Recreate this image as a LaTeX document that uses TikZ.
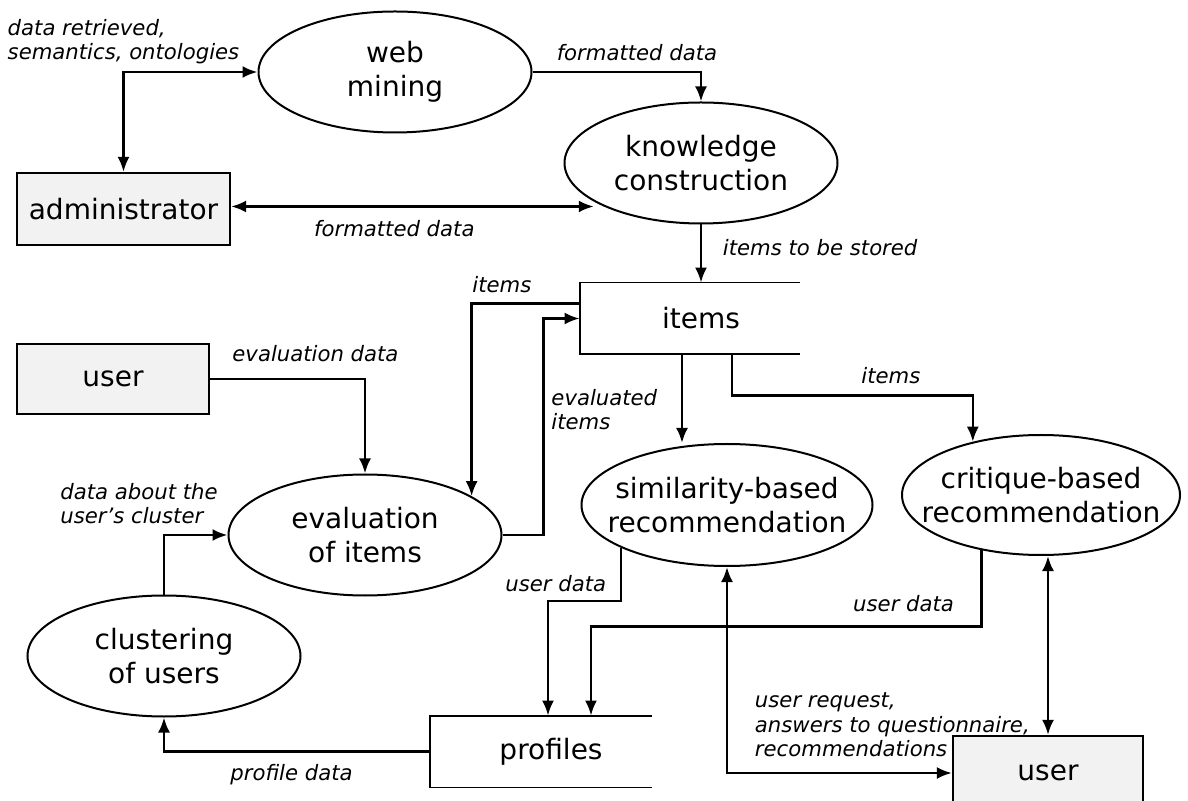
\documentclass[tikz,border=0pt]{standalone}
\usepackage{fontspec}
\setmainfont{DejaVu Sans}[ItalicFont={DejaVu Sans Oblique}]
\usepackage{tikz}
\usetikzlibrary{shapes,arrows.meta,positioning}
\definecolor{boxgray}{RGB}{242,242,242}
\tikzstyle{proc} = [ellipse, draw=black, line width=1pt, fill=none, text=black, align=center, font=\fontsize{14}{17}\selectfont, inner xsep=-12pt, minimum width=136.5pt, minimum height=60.5pt, on grid]
\tikzstyle{ent} = [rectangle, draw=black, line width=1.1pt, fill=boxgray, text=black, font=\fontsize{14}{17}\selectfont, on grid]
\tikzstyle{store} = [rectangle, draw=none, fill=none, text=black, font=\fontsize{14}{17}\selectfont, minimum width=110pt, minimum height=35.5pt, on grid]
\tikzstyle{storeline} = [draw=black, line width=0.9pt]
\tikzstyle{lab} = [draw=none, fill=none, text=black, font=\fontsize{10.6}{12.3}\selectfont\itshape]
\tikzstyle{tedge}  = [draw, line width=1.3pt, >={Latex[length=7.5pt,width=6pt]}, ->]

\begin{document}
\begin{tikzpicture}

\useasboundingbox (0,0) rectangle (594pt,-400.5pt);

% processes and entities =============================
\node[proc] (web) at (197.5pt,-36pt) {web\\mining};
\node[proc, below right=45.5pt and 153pt of web] (know) {knowledge\\construction};
\node[ent, minimum width=106.5pt, minimum height=36pt, below left=68.5pt and 135.75pt of web] (admin) {administrator};
\node[store, below left=77.75pt and 5.5pt of know] (items) {\hspace*{11pt}items};
\node[ent, minimum width=96pt, minimum height=35pt, below left=85pt and 5.25pt of admin] (user1) {user};
\node[proc, below right=78pt and 126pt of user1] (eval) {evaluation\\of items};
\node[proc, below left=60.5pt and 100.5pt of eval] (clust) {clustering\\of users};
\node[proc, minimum width=145.5pt, minimum height=61pt, below right=93.25pt and 18.5pt of items] (sim) {similarity-based\\recommendation};
\node[proc, minimum width=139pt, minimum height=60pt, above right=5pt and 157pt of sim] (crit) {critique-based\\recommendation};
\node[store, minimum width=111pt, below right=108.25pt and 88pt of eval] (profiles) {\hspace*{10pt}profiles};
\node[ent, minimum width=95pt, minimum height=37pt, below right=139pt and 3.5pt of crit] (user2) {user};

% data stores
\draw[storeline] (items.north east) -- (items.north west) -- (items.south west) -- (items.south east);
\draw[storeline] (profiles.north east) -- (profiles.north west) -- (profiles.south west) -- (profiles.south east);

% edges
\draw[tedge, <->] (admin.north) |- node[lab, above, pos=0.5, align=left] {data retrieved,\\semantics, ontologies} (web.west);
\draw[tedge] (web.east) -| node[lab, above=1.5pt, pos=0.31] {formatted data} (know.north);
\draw[tedge, <->] (admin.east |- know.south west) -- node[lab, below=3pt, pos=0.45] {formatted data} ([xshift=-5pt]know.south west);
\draw[tedge] (know.south) -- node[lab, right=7pt, pos=0.4] {items to be stored} (know.south |- items.north);
\draw[tedge] ([yshift=7.5pt]items.west) -| node[lab, above=1.2pt, pos=0.36] {items} (eval.20);
\draw[tedge] (eval.east) -- ++(20.5pt,0) |- node[lab, right, pos=0.29, align=left] {evaluated\\items} (items.west);
\draw[tedge] (user1.east) -| node[lab, above=4.5pt, pos=0.34] {evaluation data} (eval.north);
\draw[tedge] (clust.north) |- node[lab, above=1.5pt, pos=0.5, xshift=-12.5pt, align=left] {data about the\\user's cluster} (eval.west);
\draw[tedge] (profiles.west) -| node[lab, below=2.5pt, pos=0.26] {profile data} (clust.south);
\draw[tedge] ([xshift=-4pt]items.south) -- ([xshift=-4pt]items.south |- sim.north);
\draw[tedge] ([xshift=21pt]items.south) -- ++(0,-20.5pt) -| node[lab, above=2pt, pos=0.33] {items} (crit.142);

% user data
\draw[tedge] (sim.202) -- node[lab, left=3.5pt, pos=0.68] {user data} ++(0,-26.5pt) -| ([xshift=3.5pt]profiles.north);
\draw[tedge] (crit.223) -- ++(0,-38pt) -| node[lab, above=3pt, pos=0.1] {user data} ([xshift=25pt]profiles.north);

% dialogue with the user
\draw[tedge, <->] (sim.south) |- node[lab, anchor=south west, pos=0.5, xshift=10pt, yshift=4pt, align=left] {user request,\\answers to questionnaire,\\recommendations} (user2.west);
\draw[tedge, <->] (user2.north) -- (user2.north |- crit.south);

\end{tikzpicture}
\end{document}
